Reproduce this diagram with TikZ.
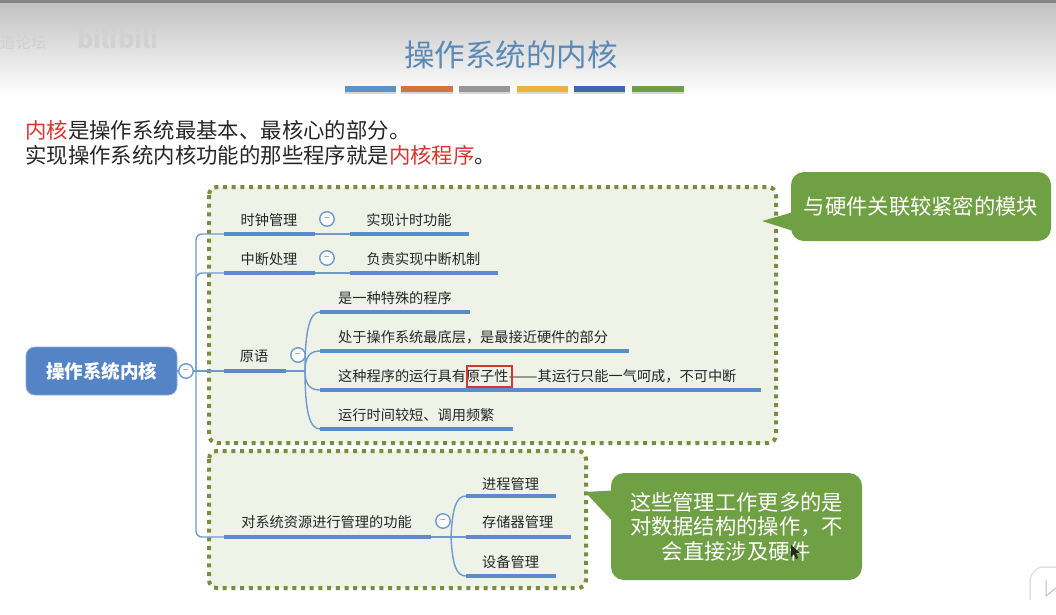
\documentclass[tikz,border=0pt]{standalone}
\usepackage{fontspec}
\setmainfont{Noto Sans CJK SC}
\usetikzlibrary{calc,positioning,shadows}
\usepackage{xcolor}

\definecolor{titleBlue}{HTML}{5A8AB5}
\definecolor{hotRed}{HTML}{D9342F}
\definecolor{rootBlue}{HTML}{5584C6}
\definecolor{lineBlue}{HTML}{5B8BCB}
\definecolor{thinBlue}{HTML}{6E9AD0}
\definecolor{boxFill}{HTML}{EFF3E7}
\definecolor{boxDot}{HTML}{7C8C3E}
\definecolor{noteGreen}{HTML}{70A044}
\definecolor{inkDark}{HTML}{262626}

\begin{document}
\begin{tikzpicture}[
  x=1pt, y=-1pt,
  font=\fontsize{14.2}{17}\selectfont,
  txt/.style={text=inkDark, inner sep=0pt},
  band/.style={line width=3.8pt, lineBlue},
  branch/.style={line width=1.4pt, thinBlue},
  fold/.style={circle, draw=thinBlue, fill=white, line width=1.4pt, minimum size=14.5pt, inner sep=0pt, text=gray, font=\fontsize{10}{10}\selectfont},
  groupbox/.style={draw=boxDot, fill=boxFill, line width=4pt, dash pattern=on 4pt off 4.7pt, rounded corners=8pt},
  note/.style={fill=noteGreen, rounded corners=13pt, text=white, align=center, inner sep=0pt, font=\fontsize{21.3}{24.6}\selectfont}
]
\useasboundingbox (0,0) rectangle (1056,614);

\def\xTrunk{196}
\def\xTopic{224}
\def\xLeaf{320}
\def\xLeafTxt{338}

\def\yClock{234}
\def\yIntr{273}
\def\yPrim{371}
\def\yLeafA{312}
\def\yLeafB{351}
\def\yLeafC{390}
\def\yLeafD{429}
\def\ySys{537}

% ------------------------
% Slide header
% ------------------------
\shade[top color=black!24, bottom color=white] (0,3) rectangle (1056,96);
\fill[black!48] (0,0) rectangle (1056,3);
\node[text=black!18, font=\fontsize{15.5}{15}\selectfont, anchor=west, inner sep=0pt] (markCn) at (0,43) {道论坛};
\node[text=black!18, font=\fontsize{25}{31}\bfseries\selectfont, anchor=west, inner sep=0pt] (markBili) at (77,38) {bilibili};
\node[text=titleBlue, font=\fontsize{30.5}{34}\selectfont, inner sep=0pt] (title) at (511,55) {操作系统的内核};

\foreach \xa/\xb/\barColor in {345/396/5B92C8, 401/453/D2743E, 459/510/979797, 517/568/EDB13E, 574/625/3E68AE, 632/684/6F9E43}{
  \definecolor{barTint}{HTML}{\barColor}
  \fill[barTint, drop shadow={shadow xshift=0pt, shadow yshift=-2pt, opacity=0.3}] (\xa,86) rectangle (\xb,92);
}

% Intro lines
\node[anchor=west, txt, font=\fontsize{21.4}{25}\selectfont] (introA) at (25,130)
  {\textcolor{hotRed}{内核}是操作系统最基本、最核心的部分。};
\node[anchor=west, txt, font=\fontsize{21.4}{25}\selectfont] (introB) at (25,155)
  {实现操作系统内核功能的那些程序就是\textcolor{hotRed}{内核程序}。};

% Dotted groups
\draw[groupbox] (209,187) rectangle (776,443);
\draw[groupbox] (209,451) rectangle (586,588);

% Root
\node[fill=rootBlue, draw=rootBlue!70!white, line width=0.8pt, rounded corners=9pt, minimum width=151pt, minimum height=48pt, text=white, inner sep=0pt, font=\fontsize{18.5}{22}\bfseries\selectfont] (root) at (101.5,371) {操作系统内核};

% Band ends
\coordinate (clockL) at (\xTopic,\yClock);
\coordinate (clockR) at (315,\yClock);
\coordinate (timerL) at (350,\yClock);
\coordinate (timerR) at (469,\yClock);
\coordinate (intrL) at (\xTopic,\yIntr);
\coordinate (intrR) at (315,\yIntr);
\coordinate (mechL) at (350,\yIntr);
\coordinate (mechR) at (498,\yIntr);
\coordinate (primL) at (\xTopic,\yPrim);
\coordinate (primR) at (286,\yPrim);
\coordinate (primJoin) at (305,\yPrim);
\coordinate (sysL) at (\xTopic,\ySys);
\coordinate (sysR) at (431,\ySys);
\coordinate (sysJoin) at (451,\ySys);
\coordinate (trunkTop) at (\xTrunk,\yClock);
\coordinate (trunkMid) at (\xTrunk,\yIntr);
\coordinate (trunkCross) at (\xTrunk,\yPrim);
\coordinate (trunkLow) at (\xTrunk,\ySys);

% Trunk
\draw[branch, rounded corners=6pt] (clockL) -- (trunkTop) -- (trunkLow) -- (sysL);
\draw[branch, rounded corners=6pt] (intrL) -- (trunkMid) -- (trunkCross);
\draw[branch] (root.east) -- (primL);

% Clock and interrupt
\draw[branch] (clockR) -- (timerL);
\draw[branch] (intrR) -- (mechL);
\draw[band] (clockL) -- (clockR);
\draw[band] (timerL) -- (timerR);
\draw[band] (intrL) -- (intrR);
\draw[band] (mechL) -- (mechR);
\node[txt] (clock) at (269,220) {时钟管理};
\node[txt] (timer) at (409,220) {实现计时功能};
\node[txt] (intr) at (269,259) {中断处理};
\node[txt] (mech) at (423.5,259) {负责实现中断机制};
\node[fold] (foldClock) at (327,219) {−};
\node[fold] (foldIntr) at (327,258) {−};

% Primitive
\draw[branch] (primR) -- (primJoin);
\foreach \yLeaf/\xEnd/\nm in {\yLeafA/470/leafA, \yLeafB/629/leafB, \yLeafC/761/leafC, \yLeafD/513/leafD}{
  \coordinate (\nm L) at (\xLeaf,\yLeaf);
  \coordinate (\nm R) at (\xEnd,\yLeaf);
  \draw[branch] (primJoin) .. controls ($(primJoin)!0.72!(\xLeaf-15,\yLeaf)$) and (\xLeaf-10,\yLeaf) .. (\nm L);
  \draw[band] (\nm L) -- (\nm R);
}
\draw[band] (primL) -- (primR);
\node[txt] (prim) at (254,356) {原语};
\node[fold] (foldPrim) at (298,355) {−};
\node[txt, anchor=west] (leafAtxt) at (\xLeafTxt,298) {是一种特殊的程序};
\node[txt, anchor=west] (leafBtxt) at (\xLeafTxt,337) {处于操作系统最底层，是最接近硬件的部分};
\node[txt, anchor=west] (leafCtxt) at (\xLeafTxt,376) {这种程序的运行具有原子性\resizebox{29pt}{\height}{——}其运行只能一气呵成，不可中断};
\node[txt, anchor=west] (leafDtxt) at (\xLeafTxt,415) {运行时间较短、调用频繁};
\node[draw=hotRed, line width=1.8pt, minimum width=45pt, minimum height=21pt, inner sep=0pt] (atomBox) at (489.5,376.5) {};

% Resource management
\draw[branch] (sysR) -- (sysJoin);
\foreach \yLeaf/\xEnd/\nm in {496/556/mgrA, \ySys/571/mgrB, 576/556/mgrC}{
  \coordinate (\nm L) at (466,\yLeaf);
  \coordinate (\nm R) at (\xEnd,\yLeaf);
  \draw[branch] (sysJoin) .. controls ($(sysJoin)!0.7!(453,\yLeaf)$) and (456,\yLeaf) .. (\nm L);
  \draw[band] (\nm L) -- (\nm R);
}
\draw[band] (sysL) -- (sysR);
\node[txt] (sys) at (326.5,522) {对系统资源进行管理的功能};
\node[fold] (foldSys) at (443,521) {−};
\node[txt, anchor=west] (mgrAtxt) at (482,484) {进程管理};
\node[txt, anchor=west] (mgrBtxt) at (482,522) {存储器管理};
\node[txt, anchor=west] (mgrCtxt) at (482,562) {设备管理};

% Root fold sits over the trunk
\node[fold] (foldRoot) at (186,371) {−};

% Notes
\coordinate (tipHw) at (762,221);
\coordinate (tipData) at (585,492);
\node[note, minimum width=260pt, minimum height=69pt] (noteHw) at (921,206.5) {与硬件关联较紧密的模块};
\node[note, minimum width=251pt, minimum height=107pt] (noteData) at (736.5,526.5) {这些管理工作更多的是\\对数据结构的操作，不\\会直接涉及硬件};
\fill[noteGreen] (tipHw) -- ($(noteHw.west)+(1,6)$) -- ($(noteHw.west)+(1,24)$) -- cycle;
\fill[noteGreen] (tipData) -- ($(noteData.west)+(1,-36)$) -- ($(noteData.west)+(1,-6)$) -- cycle;

% Pointer and player mark
\fill[black!85] (791,545) -- (791,557) -- (794,554) -- (796,559) -- (798,558) -- (796,553) -- (800,553) -- cycle;
\draw[black!12, line width=1.5pt, rounded corners=5pt] (1056,567) -- (1038,567) -- (1030,576) -- (1030,600);
\draw[black!25, line width=1pt] (1046,580) -- (1046,596) -- (1056,588);

\end{tikzpicture}
\end{document}
